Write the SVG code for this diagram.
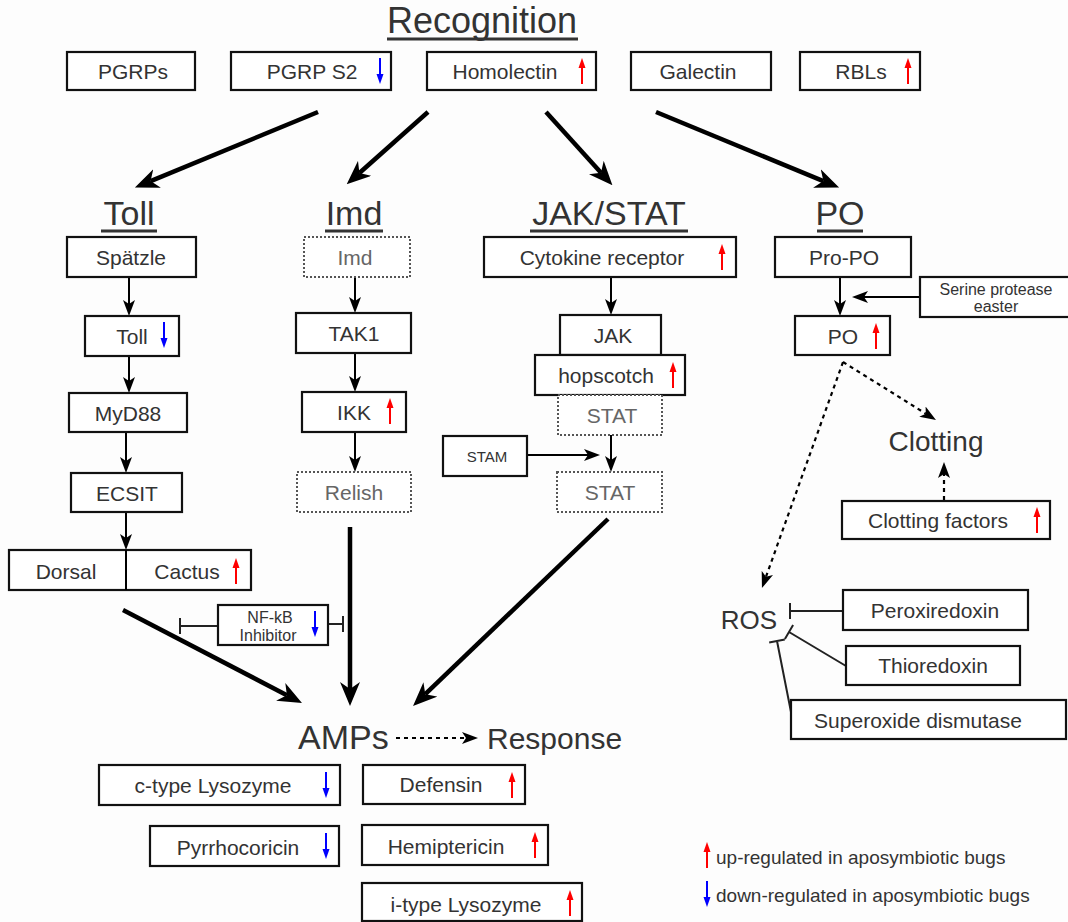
<svg xmlns="http://www.w3.org/2000/svg" xmlns:xlink="http://www.w3.org/1999/xlink" width="1068" height="922" viewBox="0 0 1068 922">
<style>
text{font-family:"Liberation Sans",Arial,sans-serif;fill:#333;}
.t{font-size:21px;text-anchor:middle;}
.g{fill:#666;}
.h{font-size:34px;text-anchor:middle;}
.b{fill:#fff;stroke:#111;stroke-width:2.2;}
.d{fill:#fff;stroke:#555;stroke-width:2;stroke-dasharray:2 2;}
.ul{stroke:#333;stroke-width:3;}
.c{stroke:#000;stroke-width:2;fill:none;}
.k{stroke:#000;stroke-width:4.5;fill:none;}
.dt{stroke:#000;stroke-width:2.2;fill:none;stroke-dasharray:4 4;}
.inh{stroke:#222;stroke-width:2;fill:none;}
</style>
<defs>
<marker id="a" markerUnits="userSpaceOnUse" markerWidth="16" markerHeight="12" refX="4" refY="6" orient="auto"><path d="M0,0 L16,6 L0,12 L4,6 z" fill="#000"/></marker>
<marker id="A" markerUnits="userSpaceOnUse" markerWidth="24" markerHeight="20" refX="7" refY="10" orient="auto"><path d="M0,0 L24,10 L0,20 L7,10 z" fill="#000"/></marker>
<g id="up"><line x1="0" y1="13" x2="0" y2="-4" stroke="#f00" stroke-width="2"/><path d="M0,-13 L3.5,-3 L-3.5,-3 z" fill="#f00"/></g>
<g id="dn"><line x1="0" y1="-13" x2="0" y2="4" stroke="#00f" stroke-width="2"/><path d="M0,13 L3.5,3 L-3.5,3 z" fill="#00f"/></g>
</defs>
<rect width="1068" height="922" fill="#fdfdfd"/>

<g id="titles">
<text x="482" y="33" font-size="36" text-anchor="middle">Recognition</text>
<line class="ul" x1="387" y1="39" x2="578" y2="39"/>
<text class="h" x="129" y="225">Toll</text>
<line class="ul" x1="101" y1="231" x2="157" y2="231"/>
<text class="h" x="354" y="225">Imd</text>
<line class="ul" x1="325" y1="231" x2="383" y2="231"/>
<text class="h" x="609" y="225">JAK/STAT</text>
<line class="ul" x1="530" y1="231" x2="688" y2="231"/>
<text class="h" x="840" y="225">PO</text>
<line class="ul" x1="817" y1="231" x2="863" y2="231"/>
</g>

<g id="connectors">
<line class="k" x1="318" y1="112" x2="150.6" y2="181.1" marker-end="url(#A)"/>
<line class="k" x1="428" y1="112" x2="359.4" y2="173.0" marker-end="url(#A)"/>
<line class="k" x1="546" y1="112" x2="601" y2="172.7" marker-end="url(#A)"/>
<line class="k" x1="656" y1="112" x2="823.4" y2="181.1" marker-end="url(#A)"/>
<line class="k" x1="123" y1="610" x2="286.9" y2="695.2" marker-end="url(#A)"/>
<line class="k" x1="350" y1="527" x2="350" y2="689" marker-end="url(#A)"/>
<line class="k" x1="608" y1="519" x2="425.3" y2="694.2" marker-end="url(#A)"/>
<line class="c" x1="129" y1="277" x2="129" y2="304" marker-end="url(#a)"/>
<line class="c" x1="129" y1="356" x2="129" y2="381" marker-end="url(#a)"/>
<line class="c" x1="126" y1="432" x2="126" y2="461" marker-end="url(#a)"/>
<line class="c" x1="126" y1="512" x2="126" y2="538" marker-end="url(#a)"/>
<line class="c" x1="355" y1="277" x2="355" y2="301" marker-end="url(#a)"/>
<line class="c" x1="355" y1="353" x2="355" y2="380" marker-end="url(#a)"/>
<line class="c" x1="355" y1="432" x2="355" y2="460" marker-end="url(#a)"/>
<line class="c" x1="611" y1="277" x2="611" y2="303" marker-end="url(#a)"/>
<line class="c" x1="611" y1="435" x2="611" y2="460" marker-end="url(#a)"/>
<line class="c" x1="527" y1="455" x2="588" y2="455" marker-end="url(#a)"/>
<line class="c" x1="840" y1="277" x2="840" y2="304" marker-end="url(#a)"/>
<line class="c" x1="920" y1="297" x2="864" y2="297" marker-end="url(#a)"/>
<path class="dt" d="M843,362 L925.8,413.7" marker-end="url(#a)"/>
<path class="dt" d="M843,362 L766,576.7" marker-end="url(#a)"/>
<line class="dt" x1="944" y1="500" x2="944" y2="474" marker-end="url(#a)"/>
<line class="dt" x1="396" y1="738" x2="466" y2="738" marker-end="url(#a)"/>
<path class="inh" d="M218,626 H180 M180,618 V634"/>
<path class="inh" d="M328,624 H343 M343,616 V632"/>
<path class="inh" d="M843,611 H790 M790,603 V619"/>
<path class="inh" d="M846,666 L789,632 M793.1,625.1 L784.9,638.9"/>
<path class="inh" d="M791,712 L777,641 M784.8,639.5 L769.2,642.5"/>
</g>

<g id="n-pgrps"><rect class="b" x="67" y="52" width="128" height="38"/><text class="t" x="133" y="79">PGRPs</text></g>
<g id="n-pgrps2"><rect class="b" x="231" y="52" width="160" height="38"/><text class="t" x="312" y="79">PGRP S2</text><use xlink:href="#dn" x="380" y="71"/></g>
<g id="n-homolectin"><rect class="b" x="427" y="52" width="169" height="38"/><text class="t" x="505" y="79">Homolectin</text><use xlink:href="#up" x="582" y="71"/></g>
<g id="n-galectin"><rect class="b" x="631" y="52" width="140" height="38"/><text class="t" x="698" y="79">Galectin</text></g>
<g id="n-rbls"><rect class="b" x="800" y="52" width="120" height="38"/><text class="t" x="861" y="79">RBLs</text><use xlink:href="#up" x="908" y="71"/></g>

<g id="n-spatzle"><rect class="b" x="67" y="237" width="129" height="40"/><text class="t" x="131" y="265">Spätzle</text></g>
<g id="n-toll"><rect class="b" x="85" y="316" width="94" height="40"/><text class="t" x="132" y="344">Toll</text><use xlink:href="#dn" x="164" y="335"/></g>
<g id="n-myd88"><rect class="b" x="69" y="393" width="118" height="39"/><text class="t" x="128" y="421">MyD88</text></g>
<g id="n-ecsit"><rect class="b" x="71" y="473" width="111" height="39"/><text class="t" x="127" y="501">ECSIT</text></g>
<g id="n-dorsal"><rect class="b" x="9" y="550" width="242" height="40"/><line class="c" x1="126" y1="550" x2="126" y2="590"/><text class="t" x="66" y="579">Dorsal</text><text class="t" x="187" y="579">Cactus</text><use xlink:href="#up" x="236" y="571"/></g>

<g id="n-imd"><rect class="d" x="304" y="237" width="106" height="40"/><text class="t g" x="355" y="265">Imd</text></g>
<g id="n-tak1"><rect class="b" x="296" y="313" width="115" height="40"/><text class="t" x="354" y="341">TAK1</text></g>
<g id="n-ikk"><rect class="b" x="302" y="392" width="104" height="40"/><text class="t" x="354" y="420">IKK</text><use xlink:href="#up" x="390" y="411"/></g>
<g id="n-relish"><rect class="d" x="297" y="472" width="114" height="40"/><text class="t g" x="354" y="500">Relish</text></g>
<g id="n-nfkb"><rect class="b" x="218" y="605" width="110" height="40"/><text x="270" y="623" font-size="16" text-anchor="middle">NF-kB</text><text x="268" y="641" font-size="16" text-anchor="middle">Inhibitor</text><use xlink:href="#dn" x="315" y="624"/></g>

<g id="n-cytokine"><rect class="b" x="484" y="237" width="252" height="40"/><text class="t" x="602" y="265">Cytokine receptor</text><use xlink:href="#up" x="722" y="257"/></g>
<g id="n-jak"><rect class="b" x="560" y="315" width="101" height="40"/><text class="t" x="613" y="343">JAK</text></g>
<g id="n-hopscotch"><rect class="b" x="535" y="355" width="150" height="40"/><text class="t" x="606" y="383">hopscotch</text><use xlink:href="#up" x="673" y="375"/></g>
<g id="n-stat1"><rect class="d" x="558" y="395" width="104" height="40"/><text class="t g" x="612" y="423">STAT</text></g>
<g id="n-stam"><rect class="b" x="443" y="436" width="84" height="40"/><text x="487" y="462" font-size="15" text-anchor="middle">STAM</text></g>
<g id="n-stat2"><rect class="d" x="557" y="472" width="105" height="40"/><text class="t g" x="610" y="500">STAT</text></g>

<g id="n-propo"><rect class="b" x="775" y="237" width="136" height="40"/><text class="t" x="844" y="265">Pro-PO</text></g>
<g id="n-serine"><rect class="b" x="920" y="277" width="150" height="40"/><text x="996" y="295" font-size="16" text-anchor="middle">Serine protease</text><text x="996" y="312" font-size="16" text-anchor="middle">easter</text></g>
<g id="n-po"><rect class="b" x="795" y="316" width="95" height="39"/><text class="t" x="843" y="344">PO</text><use xlink:href="#up" x="876" y="336"/></g>
<g id="n-clotting"><text x="936" y="451" font-size="28" text-anchor="middle">Clotting</text></g>
<g id="n-clotfac"><rect class="b" x="842" y="501" width="208" height="38"/><text class="t" x="938" y="528">Clotting factors</text><use xlink:href="#up" x="1037" y="520"/></g>
<g id="n-ros"><text x="749" y="629" font-size="26" text-anchor="middle">ROS</text></g>
<g id="n-perox"><rect class="b" x="843" y="590" width="185" height="40"/><text class="t" x="935" y="618">Peroxiredoxin</text></g>
<g id="n-thio"><rect class="b" x="846" y="646" width="174" height="39"/><text class="t" x="933" y="673">Thioredoxin</text></g>
<g id="n-sod"><rect class="b" x="791" y="700" width="275" height="39"/><text class="t" x="918" y="728">Superoxide dismutase</text></g>

<g id="n-amps"><text x="298" y="749" font-size="34">AMPs</text></g>
<g id="n-response"><text x="487" y="749" font-size="30">Response</text></g>
<g id="n-ctype"><rect class="b" x="99" y="765" width="241" height="40"/><text class="t" x="213" y="793">c-type Lysozyme</text><use xlink:href="#dn" x="326" y="785"/></g>
<g id="n-defensin"><rect class="b" x="363" y="765" width="162" height="39"/><text class="t" x="441" y="792">Defensin</text><use xlink:href="#up" x="512" y="785"/></g>
<g id="n-pyrrho"><rect class="b" x="150" y="826" width="189" height="40"/><text class="t" x="238" y="855">Pyrrhocoricin</text><use xlink:href="#dn" x="326" y="846"/></g>
<g id="n-hemip"><rect class="b" x="362" y="825" width="186" height="40"/><text class="t" x="446" y="854">Hemiptericin</text><use xlink:href="#up" x="535" y="845"/></g>
<g id="n-itype"><rect class="b" x="362" y="883" width="220" height="38"/><text class="t" x="466" y="912">i-type Lysozyme</text><use xlink:href="#up" x="570" y="903"/></g>

<g id="legend">
<use xlink:href="#up" x="707" y="855"/>
<text x="716" y="864" font-size="19">up-regulated in aposymbiotic bugs</text>
<use xlink:href="#dn" x="707" y="894"/>
<text x="716" y="902" font-size="19">down-regulated in aposymbiotic bugs</text>
</g>
</svg>
